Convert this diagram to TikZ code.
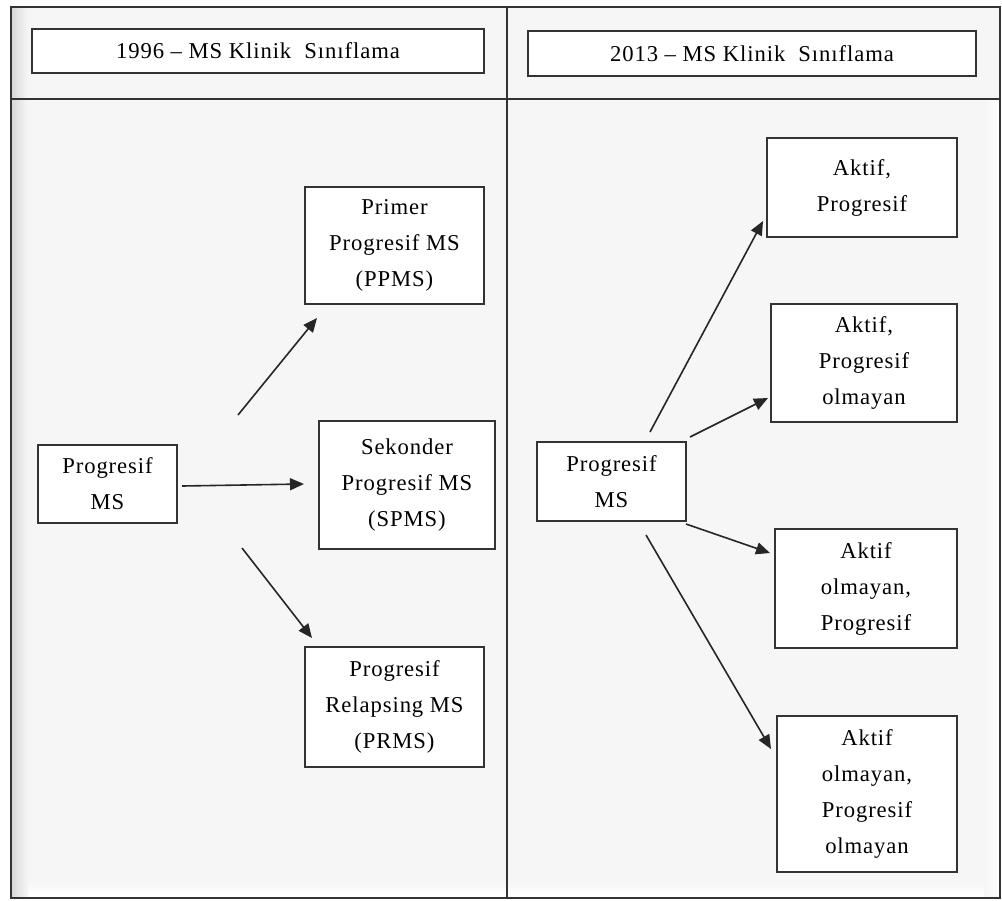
\documentclass[tikz,border=0pt]{standalone}
\usepackage{fontspec}
\setmainfont{Liberation Serif}[LetterSpace=4]
\usetikzlibrary{arrows.meta}
\definecolor{bgc}{HTML}{F6F6F6}
\definecolor{edge}{HTML}{333333}
\tikzset{
  stepbox/.style={draw=edge, line width=1.4pt, fill=white, inner sep=0pt, align=center,
    font=\fontsize{17}{27}\selectfont},
  headbox/.style={draw=edge, line width=1.4pt, fill=white, inner sep=0pt, align=center,
    font=\fontsize{17}{20}\selectfont},
  conn/.style={line width=1.2pt, black!85, -{Triangle[length=10.5pt,width=9pt]}},
  frameline/.style={line width=1.3pt, black!80}
}
\begin{document}
\begin{tikzpicture}[x=0.75pt,y=-0.75pt]
\useasboundingbox (0,0) rectangle (1002,900);
\fill[white] (0,0) rectangle (1002,900);
% frame background
\fill[bgc] (11,7) rectangle (1000,898);
\shade[left color=gray!30, right color=bgc] (12,100) rectangle (28,897);
\shade[left color=gray!30, right color=bgc] (12,8) rectangle (28,99);
\shade[top color=bgc, bottom color=white] (28,882) rectangle (999,897);
\shade[left color=bgc, right color=white] (984,100) rectangle (999,897);
% frame lines
\draw[frameline] (11,7) rectangle (1000,898);
\draw[frameline] (11,99) -- (1000,99);
\draw[frameline] (507,7) -- (507,898);

% headers
\node[headbox, minimum width=339pt, minimum height=33pt] (h1) at (258,51) {1996 – MS Klinik \ Sınıflama};
\node[headbox, minimum width=336pt, minimum height=33.75pt] (h2) at (752,53.5) {2013 – MS Klinik \ Sınıflama};

% left panel
\node[stepbox, minimum width=104.25pt, minimum height=58.5pt] (lpm) at (107.5,484) {Progresif\\MS};
\node[stepbox, minimum width=134.25pt, minimum height=87.75pt] (ppms) at (394.5,245.5) {Primer\\Progresif MS\\(PPMS)};
\node[stepbox, minimum width=132pt, minimum height=96pt] (spms) at (407,485) {Sekonder\\Progresif MS\\(SPMS)};
\node[stepbox, minimum width=134.25pt, minimum height=90pt] (prms) at (394.5,707) {Progresif\\Relapsing MS\\(PRMS)};

% right panel
\node[stepbox, minimum width=111.75pt, minimum height=59.25pt] (rpm) at (611.5,481.5) {Progresif\\MS};
\node[stepbox, minimum width=142.5pt, minimum height=74.25pt] (a1) at (862,187.5) {Aktif,\\Progresif};
\node[stepbox, minimum width=139.5pt, minimum height=88.5pt] (a2) at (864,363) {Aktif,\\Progresif\\olmayan};
\node[stepbox, minimum width=136.5pt, minimum height=89.25pt] (a3) at (866,588.5) {Aktif\\olmayan,\\Progresif};
\node[stepbox, minimum width=135pt, minimum height=117pt] (a4) at (867,794) {Aktif\\olmayan,\\Progresif\\olmayan};

% connector end points
\coordinate (sL1) at (238,415); \coordinate (eL1) at (317,318);
\coordinate (sL2) at (182,486); \coordinate (eL2) at (304,484);
\coordinate (sL3) at (242,548); \coordinate (eL3) at (312,638);
\coordinate (sR1) at (650,432); \coordinate (eR1) at (763,221);
\coordinate (sR2) at (690,437); \coordinate (eR2) at (768,398);
\coordinate (sR3) at (686,524); \coordinate (eR3) at (770,553);
\coordinate (sR4) at (646,535); \coordinate (eR4) at (771,749);

\draw[conn] (sL1) -- (eL1);
\draw[conn] (sL2) -- (eL2);
\draw[conn] (sL3) -- (eL3);
\draw[conn] (sR1) -- (eR1);
\draw[conn] (sR2) -- (eR2);
\draw[conn] (sR3) -- (eR3);
\draw[conn] (sR4) -- (eR4);
\end{tikzpicture}
\end{document}
